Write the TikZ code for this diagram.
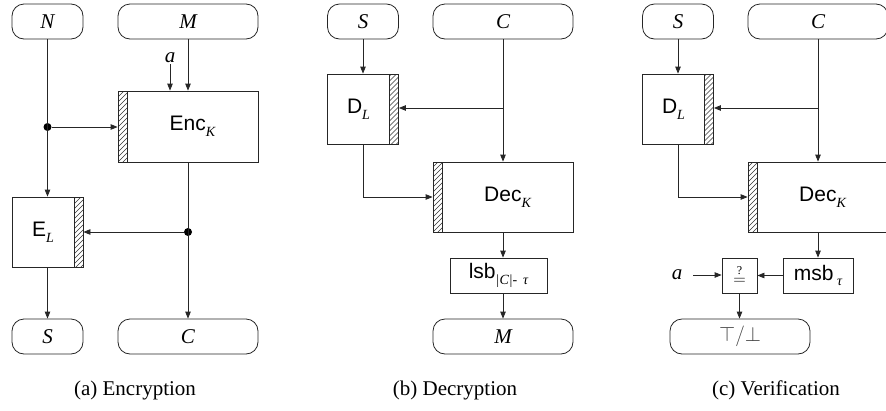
\documentclass[tikz,border=0pt]{standalone}
\usepackage{fontspec}
\setmainfont{Liberation Serif}
\setsansfont{Liberation Sans}
\newfontfamily\tms{Liberation Serif}
\usetikzlibrary{arrows.meta,calc}
\newcommand\ssub[1]{\raisebox{-0.28em}{\fontsize{14}{14}\selectfont\tms\itshape #1}}
\begin{document}
\begin{tikzpicture}[x=1pt,y=-1pt,
  every node/.style={font=\fontsize{21}{24}\selectfont},
  capsule/.style={draw=black!85, line width=0.8pt, rounded corners=12pt, inner sep=0pt, minimum height=35pt},
  box/.style={draw=black!85, line width=0.8pt, inner sep=0pt, font=\sffamily\fontsize{21}{24}\selectfont},
  arr/.style={draw=black!85, line width=0.8pt, -{Triangle[length=7pt,width=5.5pt]}},
  dot/.style={circle, fill=black, inner sep=0pt, minimum size=8pt},
  lab/.style={inner sep=1pt},
  hatchleft/.style={path picture={
    \begin{scope}
      \clip (path picture bounding box.south west) rectangle ([xshift=9pt]path picture bounding box.north west);
      \foreach \k in {0,...,22}{\draw[line width=0.5pt,black!80] ([yshift={\k*5pt-15pt}]path picture bounding box.south west) -- ++(15pt,15pt);}
    \end{scope}
    \draw[line width=0.8pt,black!85] ([xshift=9pt]path picture bounding box.south west) -- ([xshift=9pt]path picture bounding box.north west);
  }},
  hatchright/.style={path picture={
    \begin{scope}
      \clip ([xshift=-9pt]path picture bounding box.south east) rectangle (path picture bounding box.north east);
      \foreach \k in {0,...,22}{\draw[line width=0.5pt,black!80] ([xshift=-12pt,yshift={\k*5pt-15pt}]path picture bounding box.south east) -- ++(15pt,15pt);}
    \end{scope}
    \draw[line width=0.8pt,black!85] ([xshift=-9pt]path picture bounding box.south east) -- ([xshift=-9pt]path picture bounding box.north east);
  }}
]
\useasboundingbox (0,0) rectangle (886,410);

% ---------- (a) Encryption ----------
\node[capsule, minimum width=71pt] (N) at (47.5,21.5) {\itshape N};
\node[capsule, minimum width=140pt] (M) at (188,21.5) {\itshape M};
\node[box, hatchleft, minimum width=140pt, minimum height=71pt] (Enc) at (188,126.5) {\hspace*{9pt}Enc\ssub{K}};
\node[lab] (alab) at (170,58) {\itshape a};
\node[box, hatchright, minimum width=71pt, minimum height=70pt] (E) at (47.5,232) {E\ssub{L}\hspace*{9pt}};
\node[capsule, minimum width=71pt] (Sa) at (47.5,336.5) {\itshape S};
\node[capsule, minimum width=140pt] (Ca) at (188,336.5) {\itshape C};
\node[dot] (d1) at (47.5,127) {};
\node[dot] (d2) at (188,232) {};
\node (capa) at (135,390) {(a) Encryption};
\draw[arr] (N.south) -- (E.north);
\draw[arr] (d1) -- (d1 -| Enc.west);
\draw[arr] (M.south) -- (Enc.north);
\draw[arr] (alab.south) -- (alab.south |- Enc.north);
\draw[arr] (Enc.south) -- (Ca.north);
\draw[arr] (d2) -- (d2 -| E.east);
\draw[arr] (E.south) -- (Sa.north);

% ---------- (b) Decryption ----------
\node[capsule, minimum width=71pt] (Sb) at (363,21.5) {\itshape S};
\node[capsule, minimum width=140pt] (Cb) at (503,21.5) {\itshape C};
\node[box, hatchright, minimum width=71pt, minimum height=70pt] (Db) at (363,109) {D\ssub{L}\hspace*{9pt}};
\node[box, hatchleft, minimum width=140pt, minimum height=70pt] (Decb) at (503,197) {\hspace*{9pt}Dec\ssub{K}};
\node[box, minimum width=97pt, minimum height=35pt] (lsb) at (498.5,275.5) {lsb\ssub{|C|-\, τ}};
\node[capsule, minimum width=140pt] (Mb) at (503,336.5) {\itshape M};
\coordinate (jb) at (503,108);
\node (capb) at (455,390) {(b) Decryption};
\draw[arr] (Sb.south) -- (Db.north);
\draw[arr] (Cb.south) -- (Decb.north);
\draw[arr] (jb) -- (jb -| Db.east);
\draw[arr] (Db.south) |- (Decb.west);
\draw[arr] (Decb.south) -- (Decb.south |- lsb.north);
\draw[arr] (lsb.south -| Mb.north) -- (Mb.north);

% ---------- (c) Verification ----------
\node[capsule, minimum width=71pt] (Sc) at (678,21.5) {\itshape S};
\node[capsule, minimum width=140pt] (Cc) at (818,21.5) {\itshape C};
\node[box, hatchright, minimum width=71pt, minimum height=70pt] (Dc) at (678,109) {D\ssub{L}\hspace*{9pt}};
\node[box, hatchleft, minimum width=140pt, minimum height=70pt] (Decc) at (818,197) {\hspace*{9pt}Dec\ssub{K}};
\node[box, minimum width=70pt, minimum height=35pt] (msb) at (818,275.5) {msb\,\ssub{τ}};
\node[box, minimum width=35pt, minimum height=35pt, font=\fontsize{19}{19}\selectfont] (eq) at (739.5,275.5) {\raisebox{1pt}{$\stackrel{\raisebox{2pt}{\fontsize{12}{12}\selectfont ?}}{=}$}};
\node[lab] (alc) at (677,275) {\itshape a};
\node[capsule, minimum width=140pt, text=black!75] (V) at (740,336.5) {$\top/\bot$};
\coordinate (jc) at (818,108);
\node (capc) at (776,390) {(c) Verification};
\draw[arr] (Sc.south) -- (Dc.north);
\draw[arr] (Cc.south) -- (Decc.north);
\draw[arr] (jc) -- (jc -| Dc.east);
\draw[arr] (Dc.south) |- (Decc.west);
\draw[arr] (Decc.south) -- (msb.north);
\draw[arr] (msb.west) -- (eq.east);
\draw[arr, shorten <=10pt] (alc.east) -- (alc.east -| eq.west);
\draw[arr] (eq.south) -- (eq.south |- V.north);
\end{tikzpicture}
\end{document}
